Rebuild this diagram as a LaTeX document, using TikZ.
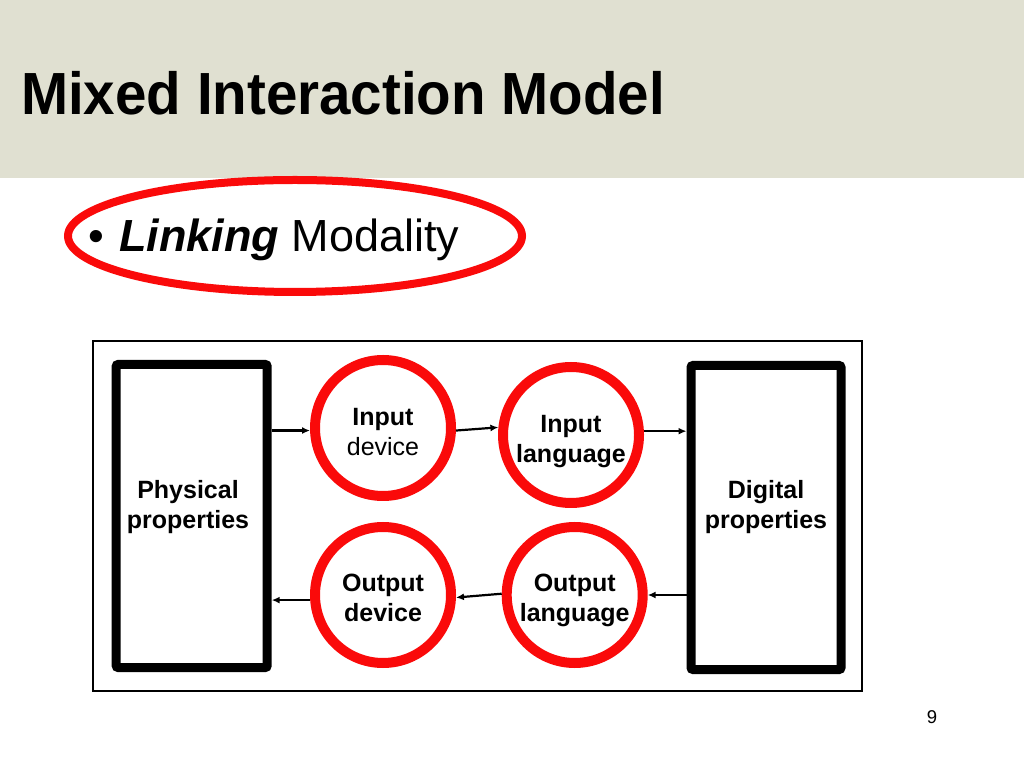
\documentclass[tikz,border=0pt]{standalone}
\usepackage{fontspec}
\setmainfont{Liberation Sans}
\usetikzlibrary{arrows.meta,calc}
\definecolor{headbg}{RGB}{224,224,209}
\definecolor{ringred}{RGB}{250,10,10}
\begin{document}
\begin{tikzpicture}[x=1pt,y=1pt,
  thickbox/.style={draw=black,line width=9pt,rounded corners=2pt,fill=white,inner sep=0pt},
  ring/.style={circle,draw=ringred,line width=10pt,minimum size=136pt,inner sep=0pt,fill=white},
  lbl/.style={align=center,font=\fontsize{25}{30}\selectfont\bfseries,inner sep=0pt},
  arr/.style={line width=2.2pt,-{Latex[length=8pt,width=7pt]}}]
\useasboundingbox (0,0) rectangle (1024,768);
\fill[white] (0,0) rectangle (1024,768);
% header band
\fill[headbg] (0,590) rectangle (1024,768);
\node[anchor=base west,inner sep=0pt] (title) at (21,653)
  {\scalebox{0.95}[1]{\fontsize{59.5}{60}\selectfont\bfseries Mixed Interaction Model}};
% bullet line
\draw[ringred,line width=8pt] (295,532) ellipse [x radius=227,y radius=56];
\node[anchor=base west,inner sep=0pt,font=\fontsize{45}{50}\selectfont] (bullet) at (88,516) {•};
\node[anchor=base west,inner sep=0pt,font=\fontsize{45}{50}\selectfont] (linking) at (119,516)
  {\textbf{\itshape Linking} Modality};
% frame
\draw[line width=2pt] (93,77) rectangle (862,427);
% boxes
\node[thickbox,minimum width=151pt,minimum height=303pt] (phys) at (191.7,252) {};
\node[thickbox,minimum width=150pt,minimum height=304pt] (dig) at (766,250.5) {};
\node[lbl] (physlbl) at (188,261) {Physical\\properties};
\node[lbl] (diglbl) at (766,261) {Digital\\properties};
% rings
\node[ring] (ind) at (383,340) {};
\node[ring] (inl) at (571,333) {};
\node[ring] (oud) at (383,173) {};
\node[ring] (oul) at (574.7,173) {};
\node[lbl] (indlbl) at ([yshift=-4pt]ind.center) {Input\\\mdseries device};
\node[lbl] (inllbl) at ([yshift=-7pt]inl.center) {Input\\language};
\node[lbl] (oudlbl) at ([yshift=-3pt]oud.center) {Output\\device};
\node[lbl] (oullbl) at ([yshift=-5pt]oul.center) {Output\\language};
% connectors
\draw[arr] (phys.east |- ind.182) -- (ind.182);
\draw[arr] (ind.-2) -- (inl.174);
\draw[arr] (inl.3) -- (dig.west |- inl.3);
\draw[arr] (dig.west |- oul.east) -- (oul.east);
\draw[arr] (oul.179) -- (oud.-2);
\draw[arr] (oud.184) -- (phys.east |- oud.184);
% page number
\node[font=\fontsize{18.5}{20}\selectfont,inner sep=0pt] (pagenum) at (932,51) {9};
\end{tikzpicture}
\end{document}
